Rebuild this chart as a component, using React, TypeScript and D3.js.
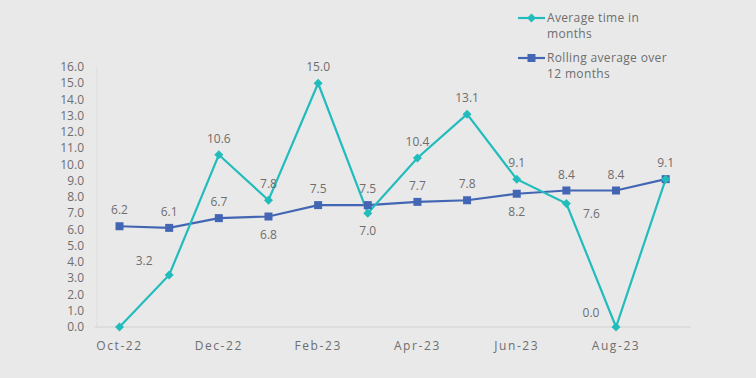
import React from "react";
import * as d3 from "d3";

const categories = ["Oct-22","Nov-22","Dec-22","Jan-23","Feb-23","Mar-23","Apr-23","May-23","Jun-23","Jul-23","Aug-23","Sep-23"];
const tickLabels = ["Oct-22","Dec-22","Feb-23","Apr-23","Jun-23","Aug-23"];
const averageTime = [0.0, 3.2, 10.6, 7.8, 15.0, 7.0, 10.4, 13.1, 9.1, 7.6, 0.0, 9.1];
const rollingAverage = [6.2, 6.1, 6.7, 6.8, 7.5, 7.5, 7.7, 7.8, 8.2, 8.4, 8.4, 9.1];
const yTicks = [0,1,2,3,4,5,6,7,8,9,10,11,12,13,14,15,16];
const averageLabelPos = ["none","upleft","above","above","above","below","above","above","above","right","upleft","none"];
const rollingLabelPos = ["above","above","above","below","above","above","above","above","below","above","above","above"];

const W = 756, H = 378;
const TEAL = "#22bcbc";
const BLUE = "#4366b4";
const TXT = "#6e6e6e";
const FONT = "'Open Sans', 'Noto Sans', sans-serif";

export default function App() {
  const x = d3.scaleBand().domain(categories).range([94.7, 690.5]).paddingInner(0).paddingOuter(0);
  const y = d3.scaleLinear().domain([0, 16]).range([327, 67]);
  const cx = (i: number) => (x(categories[i]) as number) + x.bandwidth() / 2;

  const line = d3.line<number>().x((_, i) => cx(i)).y((d) => y(d));

  const labelXY = (pos: string, px: number, py: number) => {
    switch (pos) {
      case "above": return [px, py - 16];
      case "below": return [px, py + 18];
      case "right": return [px + 25, py + 10];
      case "upleft": return [px - 25, py - 14];
      default: return null;
    }
  };

  const diamond = (px: number, py: number, s: number) =>
    `M${px},${py - s} L${px + s},${py} L${px},${py + s} L${px - s},${py} Z`;

  return (
    <svg width={W} height={H} style={{ position: "absolute", left: 0, top: 0, background: "#e9e9e9" }} fontFamily={FONT}>
      <rect x={0} y={0} width={W} height={H} fill="#e9e9e9" />
      {/* axes */}
      <line x1={97} x2={97} y1={y(16)} y2={y(0)} stroke="#d0d0d0" strokeDasharray="1,1" />
      <line x1={94.7} x2={690.5} y1={y(0)} y2={y(0)} stroke="#d2d2d2" />
      {yTicks.map((t) => (
        <text key={t} x={84} y={y(t)} dy="0.35em" textAnchor="end" fontSize={12} fill={TXT}>{t.toFixed(1)}</text>
      ))}
      {tickLabels.map((c) => (
        <text key={c} x={(x(c) as number) + x.bandwidth() / 2} y={346} dy="0.35em" textAnchor="middle" fontSize={12} fill={TXT} letterSpacing="1.6">{c}</text>
      ))}
      {/* series */}
      <path d={line(rollingAverage) || ""} fill="none" stroke={BLUE} strokeWidth={2.2} />
      <path d={line(averageTime) || ""} fill="none" stroke={TEAL} strokeWidth={2.2} />
      {rollingAverage.map((v, i) => (
        <rect key={"r" + i} x={cx(i) - 4} y={y(v) - 4} width={8} height={8} fill={BLUE} />
      ))}
      {averageTime.map((v, i) => (
        <path key={"a" + i} d={diamond(cx(i), y(v), 4.5)} fill={TEAL} />
      ))}
      {/* labels */}
      {rollingAverage.map((v, i) => {
        const p = labelXY(rollingLabelPos[i], cx(i), y(v));
        return p ? <text key={"rl" + i} x={p[0]} y={p[1]} dy="0.35em" textAnchor="middle" fontSize={12} fill={TXT}>{v.toFixed(1)}</text> : null;
      })}
      {averageTime.map((v, i) => {
        const p = labelXY(averageLabelPos[i], cx(i), y(v));
        return p ? <text key={"al" + i} x={p[0]} y={p[1]} dy="0.35em" textAnchor="middle" fontSize={12} fill={TXT}>{v.toFixed(1)}</text> : null;
      })}
      {/* legend */}
      <line x1={518} x2={545} y1={18} y2={18} stroke={TEAL} strokeWidth={2.2} />
      <path d={diamond(531.5, 18, 4.5)} fill={TEAL} />
      <text x={547} y={18} dy="0.35em" fontSize={12} letterSpacing="0.35" fill={TXT}>Average time in</text>
      <text x={547} y={34} dy="0.35em" fontSize={12} letterSpacing="0.35" fill={TXT}>months</text>
      <line x1={518} x2={545} y1={58} y2={58} stroke={BLUE} strokeWidth={2.2} />
      <rect x={527.5} y={54} width={8} height={8} fill={BLUE} />
      <text x={547} y={58} dy="0.35em" fontSize={12} letterSpacing="0.35" fill={TXT}>Rolling average over</text>
      <text x={547} y={74} dy="0.35em" fontSize={12} letterSpacing="0.35" fill={TXT}>12 months</text>
    </svg>
  );
}
